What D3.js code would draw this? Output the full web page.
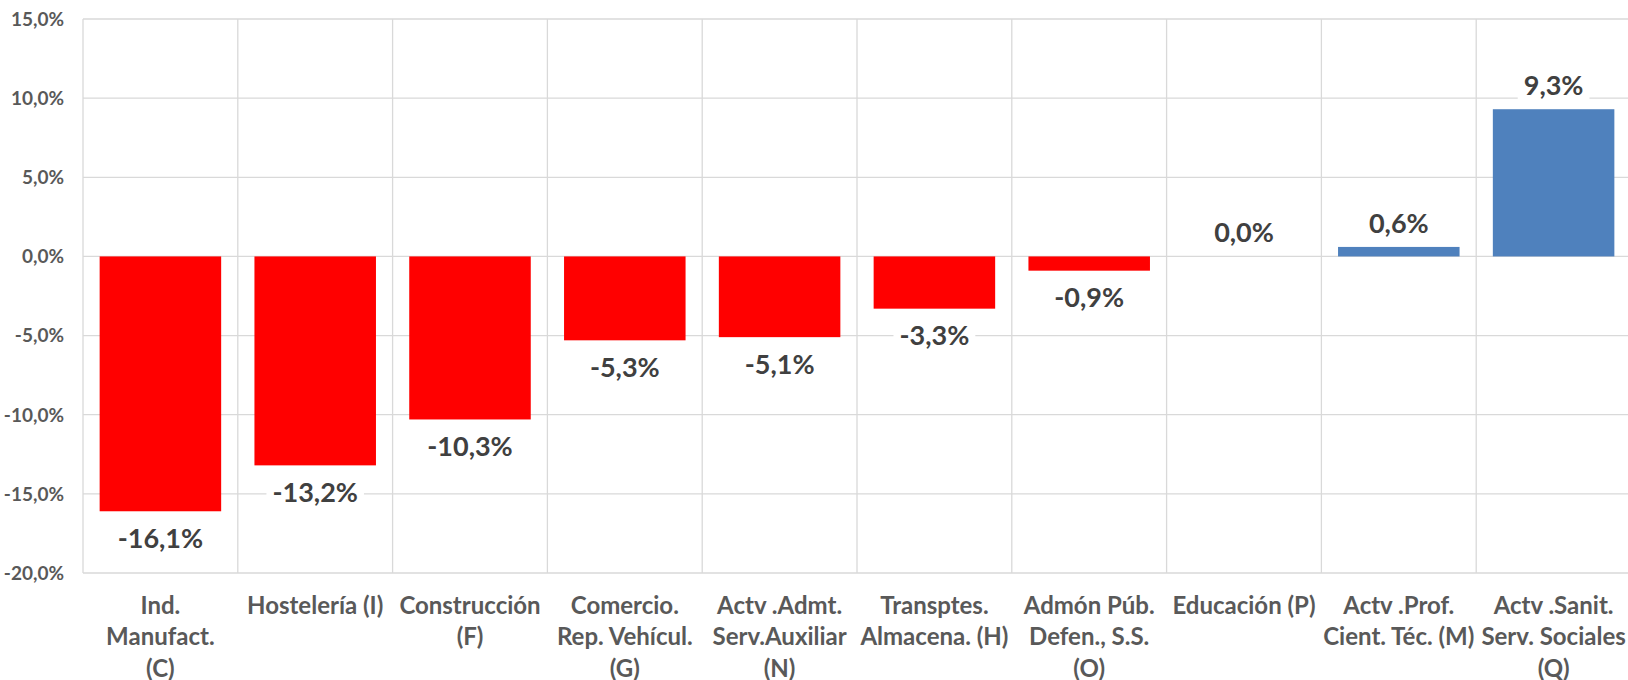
<!DOCTYPE html>
<html>
<head>
<meta charset="utf-8">
<script src="https://cdn.jsdelivr.net/npm/d3@7"></script>
<style>
  body { margin: 0; background: #fff; }
  svg { display: block; font-family: Lato, "Open Sans", sans-serif; }
</style>
</head>
<body>
<svg id="chart" width="1628" height="680"></svg>
<script>
// sector labels, already broken into lines as in the picture
var categories = [
  ["Ind.", "Manufact.", "(C)"],
  ["Hostelería (I)"],
  ["Construcción", "(F)"],
  ["Comercio.", "Rep. Vehícul.", "(G)"],
  ["Actv .Admt.", "Serv.Auxiliar", "(N)"],
  ["Transptes.", "Almacena. (H)"],
  ["Admón Púb.", "Defen., S.S.", "(O)"],
  ["Educación (P)"],
  ["Actv .Prof.", "Cient. Téc. (M)"],
  ["Actv .Sanit.", "Serv. Sociales", "(Q)"]
];
var values = [-16.1, -13.2, -10.3, -5.3, -5.1, -3.3, -0.9, 0.0, 0.6, 9.3];
var yTicks = [-20, -15, -10, -5, 0, 5, 10, 15];

var svg = d3.select("#chart");
var plotLeft = 83, plotRight = 1631, plotTop = 19, plotBottom = 573;

var x = d3.scaleBand()
  .domain(d3.range(categories.length))
  .range([plotLeft, plotRight])
  .paddingInner(0.215)
  .paddingOuter(0.1075);

var y = d3.scaleLinear()
  .domain([-20, 15])
  .range([plotBottom, plotTop]);

var step = x.step();
var es = d3.formatLocale({decimal: ",", thousands: ".", grouping: [3], currency: ["", ""], minus: "-"});
var fmt = es.format(".1f");
var pct = function(v) { return fmt(v) + "%"; };

// grid
var grid = svg.append("g").attr("stroke", "#d9d9d9").attr("stroke-width", 1.3);
grid.selectAll("line.h")
  .data(yTicks).enter()
  .append("line")
    .attr("x1", plotLeft).attr("x2", plotRight)
    .attr("y1", function(d) { return y(d); })
    .attr("y2", function(d) { return y(d); });
grid.selectAll("line.v")
  .data(d3.range(categories.length + 1)).enter()
  .append("line")
    .attr("x1", function(i) { return plotLeft + i * step; })
    .attr("x2", function(i) { return plotLeft + i * step; })
    .attr("y1", plotTop).attr("y2", plotBottom);

// y axis labels
svg.append("g").selectAll("text")
  .data(yTicks).enter()
  .append("text")
    .attr("x", 64)
    .attr("y", function(d) { return y(d); })
    .attr("dy", "0.36em")
    .attr("text-anchor", "end")
    .attr("fill", "#595959")
    .attr("font-size", 19)
    .attr("font-weight", "bold")
    .text(pct);

// bars
svg.append("g").selectAll("rect")
  .data(values).enter()
  .append("rect")
    .attr("x", function(d, i) { return x(i); })
    .attr("width", x.bandwidth())
    .attr("y", function(d) { return y(Math.max(0, d)); })
    .attr("height", function(d) { return Math.abs(y(d) - y(0)); })
    .attr("fill", function(d) { return d < 0 ? "#ff0000" : "#4f81bd"; });

// data labels with white box behind
var labels = svg.append("g").selectAll("g")
  .data(values).enter()
  .append("g")
    .attr("transform", function(d, i) {
      var cy = d < 0 ? y(d) + 27 : y(d) - 24;
      return "translate(" + (x(i) + x.bandwidth() / 2) + "," + cy + ")";
    });
labels.append("rect").attr("fill", "#fff");
labels.append("text")
    .attr("text-anchor", "middle")
    .attr("dy", "0.36em")
    .attr("fill", "#404040")
    .attr("font-size", 27)
    .attr("font-weight", "bold")
    .text(pct);
labels.each(function() {
  var g = d3.select(this);
  var w = g.select("text").node().getComputedTextLength();
  g.select("rect")
    .attr("x", -w / 2 - 6).attr("width", w + 12)
    .attr("y", -16).attr("height", 32);
});

// category labels
var cat = svg.append("g").selectAll("text")
  .data(categories).enter()
  .append("text")
    .attr("text-anchor", "middle")
    .attr("fill", "#595959")
    .attr("font-size", 24)
    .attr("font-weight", "bold")
    .attr("transform", function(d, i) {
      return "translate(" + (plotLeft + (i + 0.5) * step) + ",605)";
    });
cat.selectAll("tspan")
  .data(function(d) { return d; }).enter()
  .append("tspan")
    .attr("x", 0)
    .attr("y", function(d, j) { return j * 31.7; })
    .attr("dy", "0.36em")
    .text(function(d) { return d; });
</script>
</body>
</html>
